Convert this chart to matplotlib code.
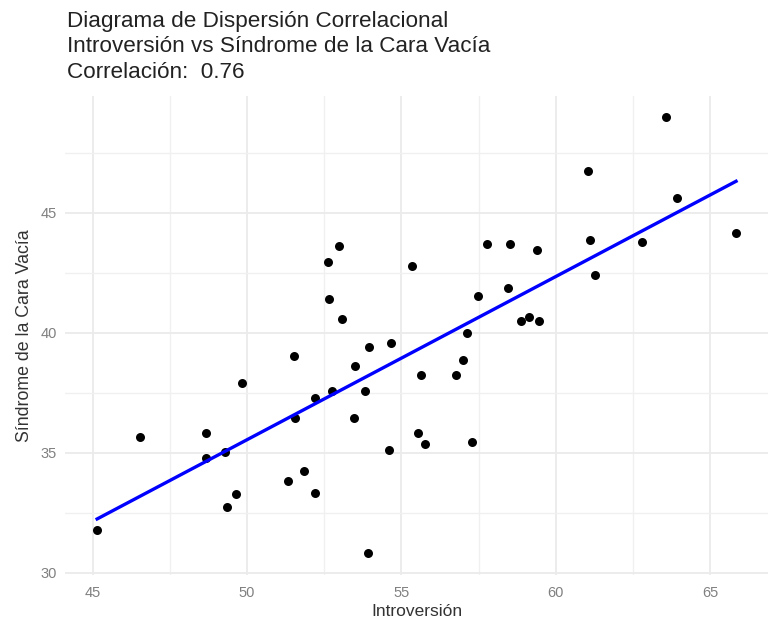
import numpy as np
import matplotlib
matplotlib.use("Agg")
import matplotlib.pyplot as plt
from matplotlib.ticker import MultipleLocator

# Data
introversion = [45.15, 46.55, 48.66, 48.66, 49.30, 49.37, 49.66, 49.85, 51.34, 51.52,
                51.56, 51.86, 52.19, 52.20, 52.75, 53.46, 53.50, 53.84, 53.95, 53.91,
                54.59, 54.68, 55.54, 55.63, 55.78, 56.76, 57.30, 56.99, 57.12, 55.33,
                57.47, 57.76, 58.51, 59.39, 58.44, 58.88, 59.13, 59.45, 61.04, 61.12,
                61.27, 62.80, 63.58, 63.93, 65.84, 52.97, 52.63, 52.66, 53.09]
sindrome = [31.78, 35.65, 35.81, 34.79, 35.03, 32.75, 33.28, 37.89, 33.81, 39.02,
            36.45, 34.24, 37.27, 33.33, 37.57, 36.43, 38.60, 37.57, 39.39, 30.81,
            35.11, 39.56, 35.81, 38.24, 35.35, 38.24, 35.45, 38.88, 39.97, 42.79,
            41.54, 43.68, 43.68, 43.45, 41.86, 40.49, 40.64, 40.49, 46.74, 43.86,
            42.42, 43.77, 48.97, 45.60, 44.14, 43.60, 42.93, 41.40, 40.56]
correlacion = 0.76
x_ticks = [45, 50, 55, 60, 65]
y_ticks = [30, 35, 40, 45]

x = np.array(introversion)
y = np.array(sindrome)

W, H = 771, 632
fig = plt.figure(figsize=(W / 100, H / 100), dpi=100)
fig.patch.set_facecolor("white")
ax = fig.add_axes([65.2 / W, 1 - 575.1 / H, (768 - 65.2) / W, (575.1 - 95.6) / H])
ax.set_facecolor("white")

# ggplot-like expansion (5%)
xr = x.max() - x.min()
yr = y.max() - y.min()
ax.set_xlim(x.min() - 0.05 * xr, x.max() + 0.05 * xr)
ax.set_ylim(y.min() - 0.05 * yr, y.max() + 0.05 * yr)

ax.xaxis.set_minor_locator(MultipleLocator(2.5))
ax.yaxis.set_minor_locator(MultipleLocator(2.5))
ax.set_xticks(x_ticks)
ax.set_yticks(y_ticks)

ax.grid(True, which="major", color="#EBEBEB", linewidth=1.3, zorder=0)
ax.grid(True, which="minor", color="#F0F0F0", linewidth=1.0, zorder=0)
ax.set_axisbelow(True)
for s in ax.spines.values():
    s.set_visible(False)
ax.tick_params(which="both", length=0)
ax.tick_params(axis="x", pad=8, labelsize=10.5, labelcolor="#808080")
ax.tick_params(axis="y", pad=6, labelsize=10.5, labelcolor="#808080")
for lab in ax.get_xticklabels() + ax.get_yticklabels():
    lab.set_family("Liberation Sans")

ax.scatter(x, y, s=42, color="black", zorder=3, linewidths=0)

slope, intercept = np.polyfit(x, y, 1)
xs = np.array([x.min(), x.max()])
ax.plot(xs, intercept + slope * xs, color="#0000FF", linewidth=2.4, zorder=4)

ax.set_xlabel("Introversión", fontsize=12.5, color="#333333", family="Liberation Sans", labelpad=3)
ax.set_ylabel("Síndrome de la Cara Vacía", fontsize=12.8, color="#333333", family="Liberation Sans")
ax.yaxis.set_label_coords((33 - 65.2) / (768 - 65.2), 0.5)

titulo = ("Diagrama de Dispersión Correlacional\n"
          "Introversión vs Síndrome de la Cara Vacía\n"
          f"Correlación:  {correlacion:.2f}")
fig.text(67 / W, 1 - 11 / H, titulo, ha="left", va="top", fontsize=16.2,
         color="#222222", family="Liberation Sans", linespacing=1.28)

fig.savefig("out.png", dpi=100, facecolor="white")
